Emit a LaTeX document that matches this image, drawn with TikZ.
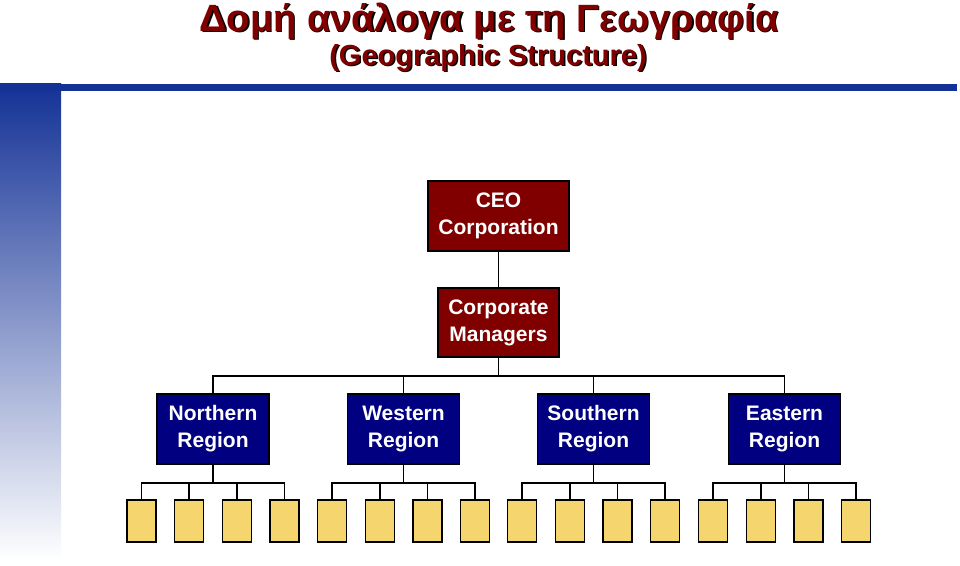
\documentclass[tikz,border=0pt]{standalone}
\usepackage{fontspec}
\setmainfont{Liberation Sans}
\definecolor{barblue}{RGB}{20,50,150}
\definecolor{ceored}{RGB}{128,0,0}
\definecolor{regnavy}{RGB}{0,0,128}
\definecolor{leafgold}{RGB}{245,214,110}
\tikzset{
  unitbox/.style={draw=black,line width=1.4pt,inner sep=0pt,align=center,text=white,
    font=\fontsize{21}{27}\selectfont\bfseries},
  topbox/.style={unitbox,fill=ceored},
  regionbox/.style={unitbox,fill=regnavy,minimum width=112pt,minimum height=70pt},
  leafbox/.style={draw=black,line width=1.4pt,fill=leafgold,minimum width=29pt,minimum height=42pt,inner sep=0pt},
  link/.style={draw=black,line width=1.6pt}
}
\begin{document}
\begin{tikzpicture}[x=1pt,y=1pt]
  \useasboundingbox (0,0) rectangle (960,565);
  % header bars
  \shade[top color=barblue,bottom color=white] (0,481) rectangle (61,5);
  \fill[barblue] (0,481) rectangle (957,474);
  % title with shadow
  \node[text=black,font=\fontsize{38}{42}\selectfont\bfseries] (title-shadow) at (490.5,542.5) {Δομή ανάλογα με τη Γεωγραφία};
  \node[text=ceored,font=\fontsize{38}{42}\selectfont\bfseries] (title) at (489,544) {Δομή ανάλογα με τη Γεωγραφία};
  \node[text=black,font=\fontsize{29}{33}\selectfont\bfseries] (subtitle-shadow) at (489.5,505.5) {(Geographic Structure)};
  \node[text=ceored,font=\fontsize{29}{33}\selectfont\bfseries] (subtitle) at (488,507) {(Geographic Structure)};

  % chart
  \node[topbox,minimum width=141pt,minimum height=70pt] (ceo) at (498.5,349) {CEO\\Corporation};
  \node[topbox,minimum width=121pt,minimum height=69pt] (managers) at (498.5,242.5) {Corporate\\Managers};
  \draw[link] (ceo.south) -- (managers.north);

  \node[regionbox] (north) at (213,136) {Northern\\Region};
  \node[regionbox] (west) at (403.5,136) {Western\\Region};
  \node[regionbox] (south) at (593.5,136) {Southern\\Region};
  \node[regionbox] (east) at (784.5,136) {Eastern\\Region};

  \coordinate (bus) at (498.5,189);
  \draw[link] (managers.south) -- (bus);
  \foreach \reg in {north,west,south,east}
    \draw[link] (bus) -| (\reg.north);

  % leaves of each region
  \foreach \reg in {north,west,south,east}{
    \foreach \dx [count=\i] in {-71.5,-23.8,23.8,71.5}
      \node[leafbox] (\reg-leaf\i) at ([xshift=\dx pt]\reg.center |- 0,44) {};
    \coordinate (\reg-bus) at ([yshift=-18pt]\reg.south);
    \draw[link] (\reg.south) -- (\reg-bus);
    \foreach \i in {1,...,4}
      \draw[link] (\reg-bus) -| (\reg-leaf\i.north);
  }
\end{tikzpicture}
\end{document}
